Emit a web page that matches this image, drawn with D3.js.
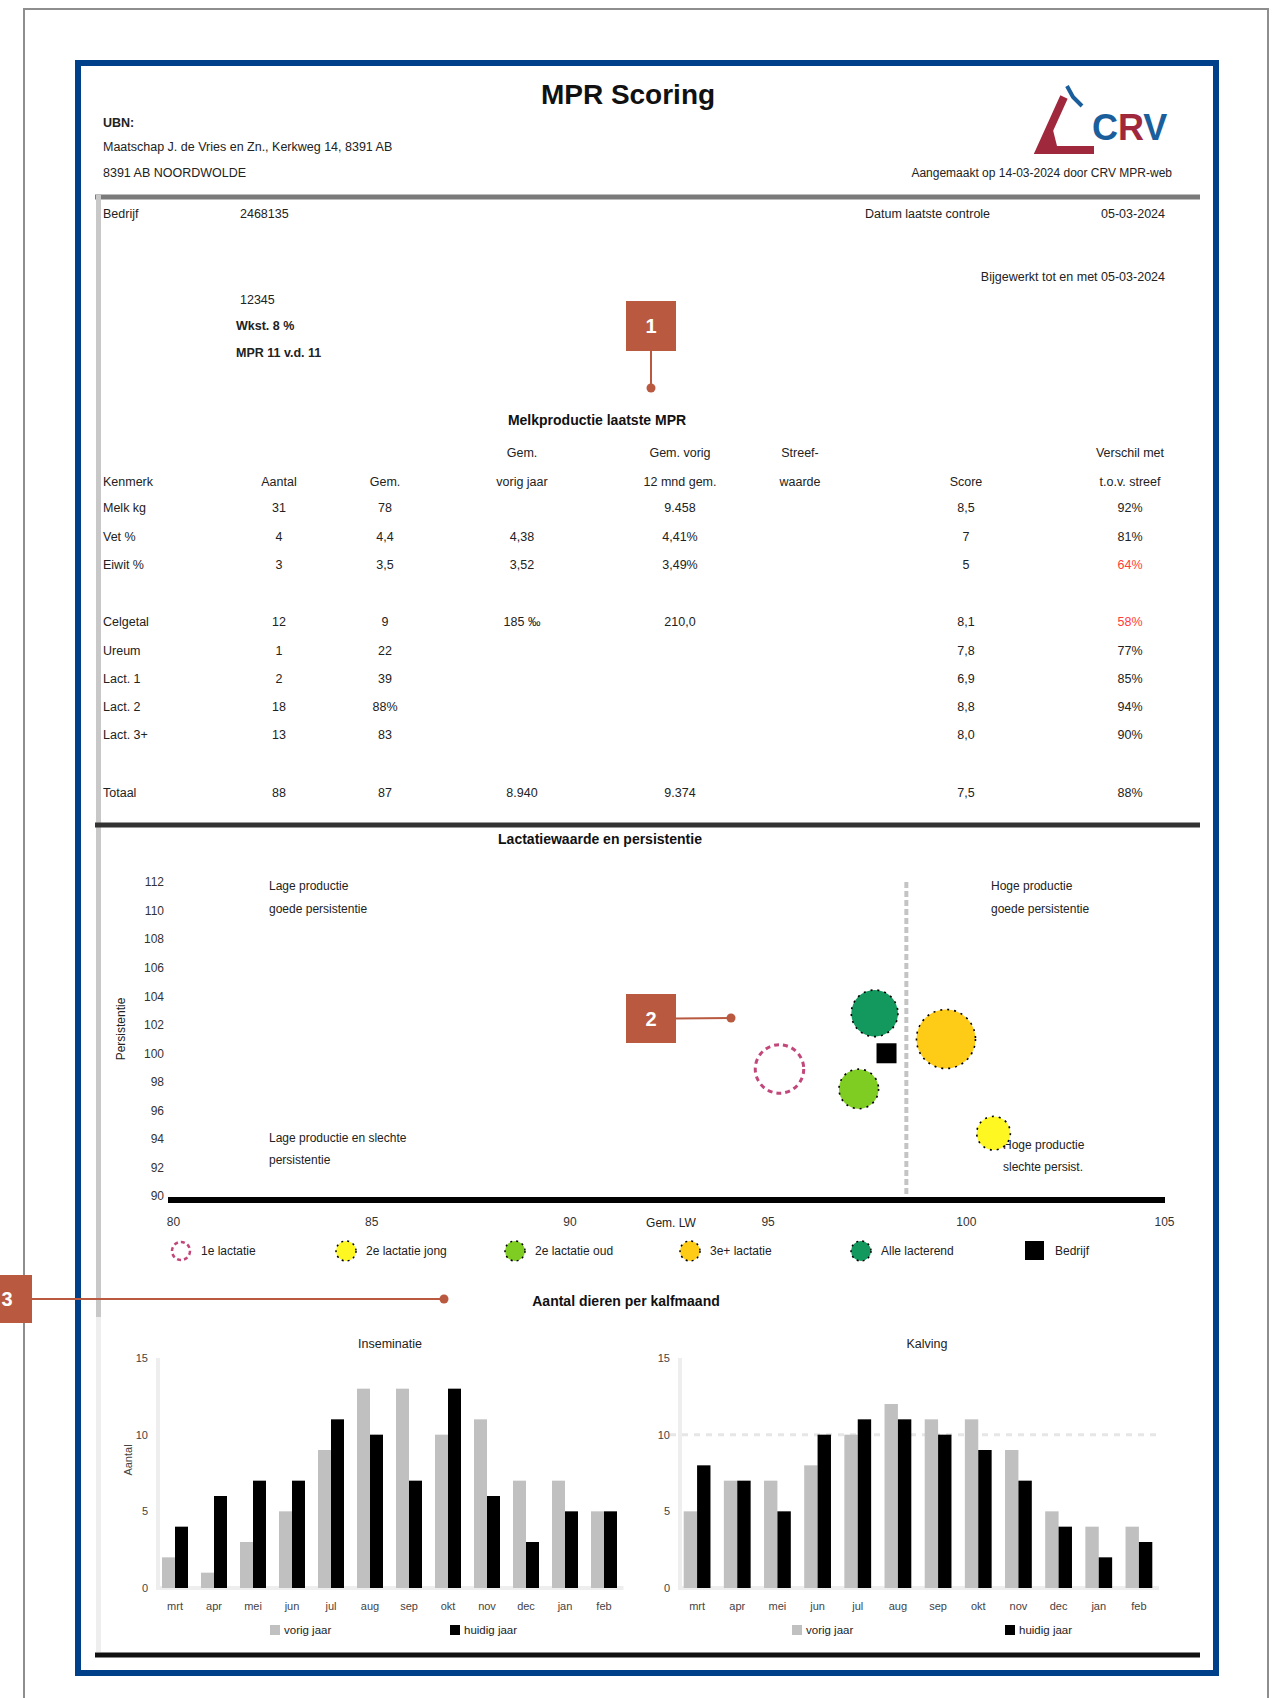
<!DOCTYPE html>
<html>
<head>
<meta charset="utf-8">
<script src="https://cdn.jsdelivr.net/npm/d3@7"></script>
<style>
  body { margin: 0; background: #fff; }
  svg { display: block; }
  text { font-family: "Liberation Sans", Arial, Helvetica, sans-serif; }
</style>
</head>
<body>
<svg id="page" width="1284" height="1698"></svg>
<script>
// ---------- report data ----------
const reportTitle = "MPR Scoring";
const farmLines = ["UBN:", "Maatschap J. de Vries en Zn., Kerkweg 14, 8391 AB", "8391 AB NOORDWOLDE"];
const printLine = "Aangemaakt op 14-03-2024 door CRV MPR-web";
const farmId = ["Bedrijf", "2468135"];
const lastControl = ["Datum laatste controle", "05-03-2024"];
const updatedLine = "Bijgewerkt tot en met  05-03-2024";
const herdInfo = ["12345", "Wkst. 8 %", "MPR 11 v.d. 11 "];

// table 1
const tableTitle = "Melkproductie laatste MPR";
const tableHead1 = ["", "", "", "Gem.", "Gem. vorig", "Streef-", "", "Verschil met"];
const tableHead2 = ["Kenmerk", "Aantal", "Gem.", "vorig jaar", "12 mnd gem.", "waarde", "Score", "t.o.v. streef"];
const tableRows  = ["Melk kg", "Vet %", "Eiwit %", "Celgetal", "Ureum", "Lact. 1", "Lact. 2", "Lact. 3+", "Totaal"];
const rowGroup   = [0, 0, 0, 1, 1, 1, 1, 1, 2];
const colAantal  = ["31", "4", "3", "12", "1", "2", "18", "13", "88"];
const colGem     = ["78", "4,4", "3,5", "9", "22", "39", "88%", "83", "87"];
const colVorig   = ["", "4,38", "3,52", "185 ‰", "", "", "", "", "8.940"];
const colJaar    = ["9.458", "4,41%", "3,49%", "210,0", "", "", "", "", "9.374"];
const colStreef  = ["", "", "", "", "", "", "", "", ""];
const colScore   = ["8,5", "7", "5", "8,1", "7,8", "6,9", "8,8", "8,0", "7,5"];
const colPct     = ["92%", "81%", "64%", "58%", "77%", "85%", "94%", "90%", "88%"];
const pctAlarm   = [false, false, true, true, false, false, false, false, false];

// bubble chart
const bubbleTitle = "Lactatiewaarde en persistentie";
const groupNames  = ["1e lactatie", "2e lactatie jong", "2e lactatie oud", "3e+ lactatie", "Alle lacterend", "Bedrijf"];
const groupColors = ["#c2477a", "#fff722", "#7fcc23", "#fecb16", "#13995d", "#000000"];
const groupLW     = [95.3, 100.7, 97.3, 99.5, 97.7];
const groupPers   = [98.9, 94.4, 97.5, 101.0, 102.8];
const groupCount  = [27, 13, 18, 40, 25];
const farmPoint   = [98.0, 100.0];
const lwReference = 98.5;
const lwTicks     = [80, 85, 90, 95, 100, 105];
const persTicks   = [90, 92, 94, 96, 98, 100, 102, 104, 106, 108, 110, 112];
const quadrantText = {
  tl: ["Lage productie", "goede persistentie"],
  tr: ["Hoge productie", "goede persistentie"],
  bl: ["Lage productie en slechte", "persistentie"],
  br: ["Hoge productie", "slechte persist."]
};

// histograms
const histTitle  = "Aantal dieren per kalfmaand";
const months     = ["mrt", "apr", "mei", "jun", "jul", "aug", "sep", "okt", "nov", "dec", "jan", "feb"];
const insemPrev  = [2, 1, 3, 5, 9, 13, 13, 10, 11, 7, 7, 5];
const insemCur   = [4, 6, 7, 7, 11, 10, 7, 13, 6, 3, 5, 5];
const calvPrev   = [5, 7, 7, 8, 10, 12, 11, 11, 9, 5, 4, 4];
const calvCur    = [8, 7, 5, 10, 11, 11, 10, 9, 7, 4, 2, 3];
const histTicks  = [0, 5, 10, 15];
const histSeries = ["vorig jaar", "huidig jaar"];

// ---------- drawing ----------
const svg = d3.select("#page");
svg.append("rect").attr("width", 1284).attr("height", 1698).attr("fill", "#fff");

function label(x, y, s, o = {}) {
  return svg.append("text")
    .attr("x", x).attr("y", y).attr("dy", "0.35em")
    .attr("font-size", o.size || 12.5)
    .attr("font-weight", o.weight || "normal")
    .attr("text-anchor", o.anchor || "start")
    .attr("fill", o.fill || "#222")
    .text(s);
}
function hline(x1, x2, y, w, c) {
  svg.append("line").attr("x1", x1).attr("x2", x2).attr("y1", y).attr("y2", y)
    .attr("stroke", c).attr("stroke-width", w);
}

// outer sheet and blue frame
svg.append("rect").attr("x", 24).attr("y", 9).attr("width", 1244).attr("height", 1720)
  .attr("fill", "none").attr("stroke", "#8e8e8e").attr("stroke-width", 2);
svg.append("rect").attr("x", 78).attr("y", 63).attr("width", 1138).attr("height", 1610)
  .attr("fill", "none").attr("stroke", "#003f8a").attr("stroke-width", 6);

// header
label(628, 94, reportTitle, { size: 28, weight: "bold", anchor: "middle", fill: "#111" });
label(103, 123, farmLines[0], { weight: "bold" });
label(103, 147, farmLines[1]);
label(103, 173, farmLines[2]);
label(1172, 173, printLine, { anchor: "end", size: 12 });

// logo
const logo = svg.append("g");
logo.append("path").attr("d", "M1064,97 L1040,150 L1094,150")
  .attr("fill", "none").attr("stroke", "#a0283c").attr("stroke-width", 8).attr("stroke-linejoin", "miter");
logo.append("path").attr("d", "M1040,150 L1052,126 L1058,150 Z").attr("fill", "#a0283c");
logo.append("path").attr("d", "M1067,86 L1073,97 L1082,106")
  .attr("fill", "none").attr("stroke", "#1a5e9c").attr("stroke-width", 4);
const lt = logo.append("text").attr("x", 1092).attr("y", 140).attr("font-size", 36).attr("font-weight", "bold");
lt.append("tspan").attr("fill", "#1a5e9c").text("C");
lt.append("tspan").attr("fill", "#a0283c").text("R");
lt.append("tspan").attr("fill", "#1a5e9c").text("V");

// section rules
hline(95, 1200, 197, 5, "#7a7a7a");
svg.append("line").attr("x1", 98.5).attr("x2", 98.5).attr("y1", 195).attr("y2", 1317)
  .attr("stroke", "#c8c8c8").attr("stroke-width", 5);
svg.append("line").attr("x1", 98.5).attr("x2", 98.5).attr("y1", 1317).attr("y2", 1652)
  .attr("stroke", "#eeeeee").attr("stroke-width", 5);
hline(95, 1200, 825, 5, "#333");
hline(95, 1200, 1655, 5, "#111");

// farm block
label(103, 214, farmId[0]);
label(240, 214, farmId[1]);
label(865, 214, lastControl[0]);
label(1165, 214, lastControl[1], { anchor: "end" });
label(1165, 277, updatedLine, { anchor: "end" });
label(240, 300, herdInfo[0]);
label(236, 326, herdInfo[1], { weight: "bold" });
label(236, 353, herdInfo[2], { weight: "bold" });

// ---------- table ----------
label(597, 420, tableTitle, { size: 14, weight: "bold", anchor: "middle", fill: "#111" });
const colX = [103, 279, 385, 522, 680, 800, 966, 1130];
tableHead1.forEach((h, i) => { if (h) label(colX[i], 453, h, { anchor: "middle" }); });
tableHead2.forEach((h, i) => label(colX[i], 482, h, { anchor: i ? "middle" : "start" }));
const rowY = i => 508 + i * 28.3 + rowGroup[i] * 29;
const cols = [colAantal, colGem, colVorig, colJaar, colStreef, colScore, colPct];
tableRows.forEach((r, i) => {
  label(colX[0], rowY(i), r);
  cols.forEach((c, j) => {
    if (!c[i]) return;
    const alarm = j === 6 && pctAlarm[i];
    label(colX[j + 1], rowY(i), c[i], { anchor: "middle", fill: alarm ? "#ff3b3b" : "#222" });
  });
});

// ---------- bubble chart ----------
label(600, 839, bubbleTitle, { size: 14, weight: "bold", anchor: "middle", fill: "#111" });
const bx = d3.scaleLinear().domain([80, 105]).range([173, 1164]);
const by = d3.scaleLinear().domain([90, 112]).range([1196, 882]);
const br = d3.scaleSqrt().domain([0, 40]).range([0, 29.5]);

svg.append("line").attr("x1", bx(lwReference)).attr("x2", bx(lwReference))
  .attr("y1", by(112)).attr("y2", 1198)
  .attr("stroke", "#c4c4c4").attr("stroke-width", 4).attr("stroke-dasharray", "6,3");

const xAxis = svg.append("g").attr("transform", "translate(0,1200)")
  .call(d3.axisBottom(bx).tickValues(lwTicks).tickSize(0).tickPadding(17).tickFormat(d3.format("d")));
xAxis.select(".domain").remove();
xAxis.selectAll("text").attr("font-size", 12).attr("fill", "#333").attr("font-family", null);
hline(168, 1165, 1200, 6, "#000");
label(671, 1223, "Gem. LW", { anchor: "middle", size: 12 });

const yAxis = svg.append("g").attr("transform", "translate(170,0)")
  .call(d3.axisLeft(by).tickValues(persTicks).tickSize(0).tickPadding(6).tickFormat(d3.format("d")));
yAxis.select(".domain").remove();
yAxis.selectAll("text").attr("font-size", 12).attr("fill", "#333").attr("font-family", null);
svg.append("text").attr("transform", "translate(121,1029) rotate(-90)")
  .attr("text-anchor", "middle").attr("dy", "0.35em").attr("font-size", 12).attr("fill", "#222")
  .text("Persistentie");

quadrantText.tl.forEach((t, i) => label(269, 886 + i * 23, t, { size: 12 }));
quadrantText.tr.forEach((t, i) => label(991, 886 + i * 23, t, { size: 12 }));
quadrantText.bl.forEach((t, i) => label(269, 1138 + i * 22, t, { size: 12 }));
quadrantText.br.forEach((t, i) => label(1003, 1145 + i * 22, t, { size: 12 }));

groupLW.forEach((v, i) => {
  const c = svg.append("circle").attr("cx", bx(v)).attr("cy", by(groupPers[i])).attr("r", br(groupCount[i]));
  if (i === 0) {
    c.attr("fill", "#fff").attr("stroke", groupColors[0]).attr("stroke-width", 3).attr("stroke-dasharray", "5,4");
  } else {
    c.attr("fill", groupColors[i]).attr("stroke", "#000").attr("stroke-width", 1.6).attr("stroke-dasharray", "2,5");
  }
});
svg.append("rect").attr("x", bx(farmPoint[0]) - 10).attr("y", by(farmPoint[1]) - 10)
  .attr("width", 20).attr("height", 20).attr("fill", "#000");

// legend
const legX = [181, 346, 515, 690, 861, 1035];
groupNames.forEach((n, i) => {
  const cx = legX[i], cy = 1251;
  if (i === 5) {
    svg.append("rect").attr("x", cx - 10).attr("y", cy - 10).attr("width", 19).attr("height", 19).attr("fill", "#000");
  } else if (i === 0) {
    svg.append("circle").attr("cx", cx).attr("cy", cy).attr("r", 9).attr("fill", "#fff")
      .attr("stroke", groupColors[0]).attr("stroke-width", 2.5).attr("stroke-dasharray", "4,3");
  } else {
    svg.append("circle").attr("cx", cx).attr("cy", cy).attr("r", 10).attr("fill", groupColors[i])
      .attr("stroke", "#000").attr("stroke-width", 1.5).attr("stroke-dasharray", "2,4");
  }
  label(cx + 20, cy, n, { size: 12 });
});

// ---------- histograms ----------
label(626, 1301, histTitle, { size: 14, weight: "bold", anchor: "middle", fill: "#111" });
const hy = d3.scaleLinear().domain([0, 15]).range([1588, 1358]);

function histogram(range, axisX, title, titleX, prev, cur, refValue, legendX) {
  const x = d3.scaleBand().domain(months).range(range).paddingInner(1 / 3).paddingOuter(1 / 6);
  const bw = x.bandwidth() / 2;
  label(titleX, 1344, title, { anchor: "middle", size: 12.5 });
  svg.append("line").attr("x1", axisX).attr("x2", axisX).attr("y1", hy(15)).attr("y2", hy(0))
    .attr("stroke", "#eeeeee").attr("stroke-width", 4);
  hline(axisX - 2, range[1], hy(0), 4, "#eeeeee");
  if (refValue != null) {
    svg.append("line").attr("x1", axisX - 10).attr("x2", range[1]).attr("y1", hy(refValue)).attr("y2", hy(refValue))
      .attr("stroke", "#e6e6e6").attr("stroke-width", 3).attr("stroke-dasharray", "6,6");
  }
  svg.append("g").selectAll("rect").data(months).join("rect")
    .attr("x", d => x(d)).attr("width", bw)
    .attr("y", (d, i) => hy(prev[i])).attr("height", (d, i) => hy(0) - hy(prev[i]))
    .attr("fill", "#c0c0c0");
  svg.append("g").selectAll("rect").data(months).join("rect")
    .attr("x", d => x(d) + bw).attr("width", bw)
    .attr("y", (d, i) => hy(cur[i])).attr("height", (d, i) => hy(0) - hy(cur[i]))
    .attr("fill", "#000");
  const ax = svg.append("g").attr("transform", `translate(${axisX},0)`)
    .call(d3.axisLeft(hy).tickValues(histTicks).tickSize(0).tickPadding(10));
  ax.select(".domain").remove();
  ax.selectAll("text").attr("font-size", 11).attr("fill", "#444").attr("font-family", null);
  const mx = svg.append("g").attr("transform", `translate(0,${hy(0)})`)
    .call(d3.axisBottom(x).tickSize(0).tickPadding(14));
  mx.select(".domain").remove();
  mx.selectAll("text").attr("font-size", 11).attr("fill", "#444").attr("font-family", null);
  histSeries.forEach((s, i) => {
    svg.append("rect").attr("x", legendX[i]).attr("y", 1625).attr("width", 10).attr("height", 10)
      .attr("fill", i ? "#000" : "#c0c0c0");
    label(legendX[i] + 14, 1630, s, { size: 11.5 });
  });
}
histogram([155.5, 623.5], 158, "Inseminatie", 390, insemPrev, insemCur, null, [270, 450]);
histogram([677, 1159], 680, "Kalving", 927, calvPrev, calvCur, 10, [792, 1005]);
svg.append("text").attr("transform", "translate(128,1460) rotate(-90)")
  .attr("text-anchor", "middle").attr("dy", "0.35em").attr("font-size", 11).attr("fill", "#444")
  .text("Aantal");

// ---------- numbered callouts ----------
const callColor = "#b95a40";
function callout(n, x, y, w, h, tx, ty) {
  const cx = x + w / 2, cy = y + h / 2;
  const sx = tx === cx ? cx : x + w, sy = tx === cx ? y + h : cy;
  svg.append("line").attr("x1", sx).attr("y1", sy).attr("x2", tx).attr("y2", ty)
    .attr("stroke", callColor).attr("stroke-width", 2);
  svg.append("circle").attr("cx", tx).attr("cy", ty).attr("r", 4.5).attr("fill", callColor);
  svg.append("rect").attr("x", x).attr("y", y).attr("width", w).attr("height", h).attr("fill", callColor);
  svg.append("text").attr("x", cx).attr("y", cy).attr("dy", "0.36em").attr("text-anchor", "middle")
    .attr("font-size", 20).attr("font-weight", "bold").attr("fill", "#fff").text(n);
}
callout("1", 626, 301, 50, 50, 651, 388);
callout("2", 626, 994, 50, 49, 731, 1018);
callout("3", -18, 1275, 50, 48, 444, 1299);
</script>
</body>
</html>
